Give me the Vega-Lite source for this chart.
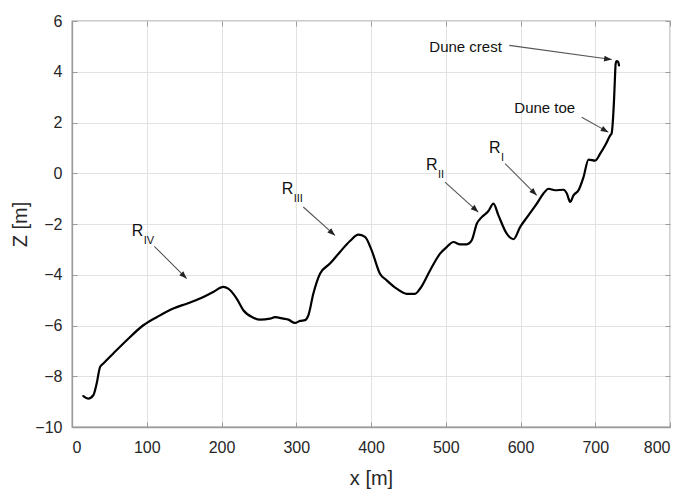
{
  "$schema": "https://vega.github.io/schema/vega-lite/v6.json",
  "width": 598,
  "height": 406,
  "autosize": "none",
  "padding": {"left": 72, "top": 21, "right": 19, "bottom": 65},
  "background": "white",
  "config": {
    "font": "Liberation Sans",
    "view": {"stroke": "#9a9a9a", "strokeWidth": 1.3},
    "axis": {
      "gridColor": "#e2e2e2",
      "gridWidth": 1,
      "domainColor": "#9a9a9a",
      "domainWidth": 1.3,
      "tickColor": "#9a9a9a",
      "tickSize": -5,
      "labelColor": "#262626",
      "labelFontSize": 16,
      "titleColor": "#262626",
      "titleFontSize": 20,
      "titleFontWeight": "normal"
    }
  },
  "datasets": {
    "profile": [
      {"x": 15.2, "z": -8.78}, {"x": 21.8, "z": -8.88}, {"x": 28.5, "z": -8.75}, {"x": 33, "z": -8.29},
      {"x": 37.5, "z": -7.64}, {"x": 41.9, "z": -7.5}, {"x": 55.3, "z": -7.1}, {"x": 73.2, "z": -6.58},
      {"x": 95.4, "z": -5.99}, {"x": 117.7, "z": -5.6}, {"x": 135.5, "z": -5.33}, {"x": 153.4, "z": -5.14},
      {"x": 171.2, "z": -4.94}, {"x": 189, "z": -4.68}, {"x": 202.4, "z": -4.48}, {"x": 209, "z": -4.55},
      {"x": 220.3, "z": -4.94}, {"x": 229.2, "z": -5.4}, {"x": 242.6, "z": -5.69}, {"x": 251.5, "z": -5.77},
      {"x": 264.9, "z": -5.73}, {"x": 271.6, "z": -5.67}, {"x": 282.7, "z": -5.73}, {"x": 289.4, "z": -5.77},
      {"x": 298.3, "z": -5.9}, {"x": 305, "z": -5.82}, {"x": 311.7, "z": -5.79}, {"x": 316.2, "z": -5.6},
      {"x": 322.9, "z": -4.74}, {"x": 331.8, "z": -3.96}, {"x": 345.1, "z": -3.56}, {"x": 358.5, "z": -3.1},
      {"x": 371.9, "z": -2.67}, {"x": 383, "z": -2.42}, {"x": 392, "z": -2.51}, {"x": 400.9, "z": -3.04},
      {"x": 412, "z": -3.96}, {"x": 421, "z": -4.22}, {"x": 434.4, "z": -4.55}, {"x": 447.8, "z": -4.75},
      {"x": 458.9, "z": -4.75}, {"x": 465.6, "z": -4.55}, {"x": 479, "z": -3.83}, {"x": 492.4, "z": -3.17},
      {"x": 501.3, "z": -2.91}, {"x": 510.2, "z": -2.71}, {"x": 519.2, "z": -2.8}, {"x": 528.1, "z": -2.8},
      {"x": 534.8, "z": -2.64}, {"x": 541.5, "z": -1.99}, {"x": 548.2, "z": -1.73}, {"x": 557.1, "z": -1.49},
      {"x": 563.8, "z": -1.2}, {"x": 570.5, "z": -1.66}, {"x": 581.6, "z": -2.38}, {"x": 590.6, "z": -2.6},
      {"x": 599.5, "z": -2.12}, {"x": 610.6, "z": -1.66}, {"x": 621.8, "z": -1.2}, {"x": 630.7, "z": -0.8},
      {"x": 637.4, "z": -0.61}, {"x": 646.3, "z": -0.67}, {"x": 657.5, "z": -0.65}, {"x": 662, "z": -0.8},
      {"x": 666.4, "z": -1.13}, {"x": 670.9, "z": -0.87}, {"x": 677.6, "z": -0.67}, {"x": 684.3, "z": -0.15},
      {"x": 691, "z": 0.54}, {"x": 699.9, "z": 0.5}, {"x": 706.6, "z": 0.77}, {"x": 713.3, "z": 1.1},
      {"x": 720, "z": 1.49}, {"x": 722, "z": 1.58}, {"x": 723.3, "z": 1.95}, {"x": 725.1, "z": 2.87},
      {"x": 726.4, "z": 3.79}, {"x": 727.3, "z": 4.32}, {"x": 728.7, "z": 4.42}, {"x": 730.8, "z": 4.38},
      {"x": 731.8, "z": 4.25}
    ],
    "arrows": [
      {"name": "Dune crest", "x1": 585, "z1": 5.04, "x2": 722, "z2": 4.48},
      {"name": "Dune toe", "x1": 681.9, "z1": 2.21, "x2": 717.5, "z2": 1.62},
      {"name": "RI", "x1": 579.3, "z1": 0.38, "x2": 621.7, "z2": -0.87},
      {"name": "RII", "x1": 499, "z1": -0.35, "x2": 543.5, "z2": -1.53},
      {"name": "RIII", "x1": 309.4, "z1": -1.33, "x2": 351.8, "z2": -2.45},
      {"name": "RIV", "x1": 110.1, "z1": -2.88, "x2": 153.4, "z2": -4.15}
    ],
    "dunes": [
      {"label": "Dune crest", "x": 478, "z": 4.97},
      {"label": "Dune toe", "x": 591.7, "z": 2.57}
    ],
    "ridges": [
      {"label": "R", "sub": "I", "x": 557.9, "z": 0.98},
      {"label": "R", "sub": "II", "x": 473.6, "z": 0.33},
      {"label": "R", "sub": "III", "x": 280.5, "z": -0.63},
      {"label": "R", "sub": "IV", "x": 79.9, "z": -2.29}
    ]
  },
  "resolve": {"axis": {"x": "independent", "y": "independent"}},
  "layer": [
    {
      "data": {"name": "profile"},
      "mark": {"type": "line", "color": "#000000", "strokeWidth": 2.2, "strokeJoin": "round", "strokeCap": "round", "interpolate": "monotone"},
      "encoding": {
        "x": {"field": "x", "type": "quantitative", "scale": {"domain": [0, 800], "nice": false},
              "axis": {"values": [0, 100, 200, 300, 400, 500, 600, 700, 800], "title": "x [m]", "labelPadding": 17, "titlePadding": 13}},
        "y": {"field": "z", "type": "quantitative", "scale": {"domain": [-10, 6], "nice": false},
              "axis": {"values": [-10, -8, -6, -4, -2, 0, 2, 4, 6], "title": "Z [m]", "labelPadding": 15, "titlePadding": 4}}
      }
    },
    {
      "data": {"name": "arrows"},
      "mark": {"type": "rule", "color": "#555555", "strokeWidth": 1.1},
      "encoding": {
        "x": {"field": "x1", "type": "quantitative",
              "axis": {"orient": "top", "values": [0, 100, 200, 300, 400, 500, 600, 700, 800], "labels": false, "grid": false, "domain": false, "title": null}},
        "y": {"field": "z1", "type": "quantitative",
              "axis": {"orient": "right", "values": [-10, -8, -6, -4, -2, 0, 2, 4, 6], "labels": false, "grid": false, "domain": false, "title": null}},
        "x2": {"field": "x2"},
        "y2": {"field": "z2"}
      }
    },
    {
      "data": {"name": "arrows"},
      "transform": [
        {"calculate": "atan2((datum.x2 - datum.x1) * 0.7475, (datum.z2 - datum.z1) * 25.375) * 180 / PI", "as": "angle"}
      ],
      "mark": {"type": "point", "shape": "M0,0 L-0.38,1 L0.38,1 Z", "filled": true, "color": "#222222", "opacity": 1, "size": 230},
      "encoding": {
        "x": {"field": "x2", "type": "quantitative", "axis": null},
        "y": {"field": "z2", "type": "quantitative", "axis": null},
        "angle": {"field": "angle", "type": "quantitative", "scale": null}
      }
    },
    {
      "data": {"name": "dunes"},
      "mark": {"type": "text", "align": "left", "baseline": "middle", "fontSize": 15, "color": "#111111"},
      "encoding": {
        "x": {"field": "x", "type": "quantitative", "axis": null},
        "y": {"field": "z", "type": "quantitative", "axis": null},
        "text": {"field": "label"}
      }
    },
    {
      "data": {"name": "ridges"},
      "mark": {"type": "text", "align": "left", "baseline": "middle", "fontSize": 16, "color": "#111111"},
      "encoding": {
        "x": {"field": "x", "type": "quantitative", "axis": null},
        "y": {"field": "z", "type": "quantitative", "axis": null},
        "text": {"field": "label"}
      }
    },
    {
      "data": {"name": "ridges"},
      "mark": {"type": "text", "align": "left", "baseline": "middle", "fontSize": 11, "dx": 12, "dy": 10, "color": "#111111"},
      "encoding": {
        "x": {"field": "x", "type": "quantitative", "axis": null},
        "y": {"field": "z", "type": "quantitative", "axis": null},
        "text": {"field": "sub"}
      }
    }
  ]
}
